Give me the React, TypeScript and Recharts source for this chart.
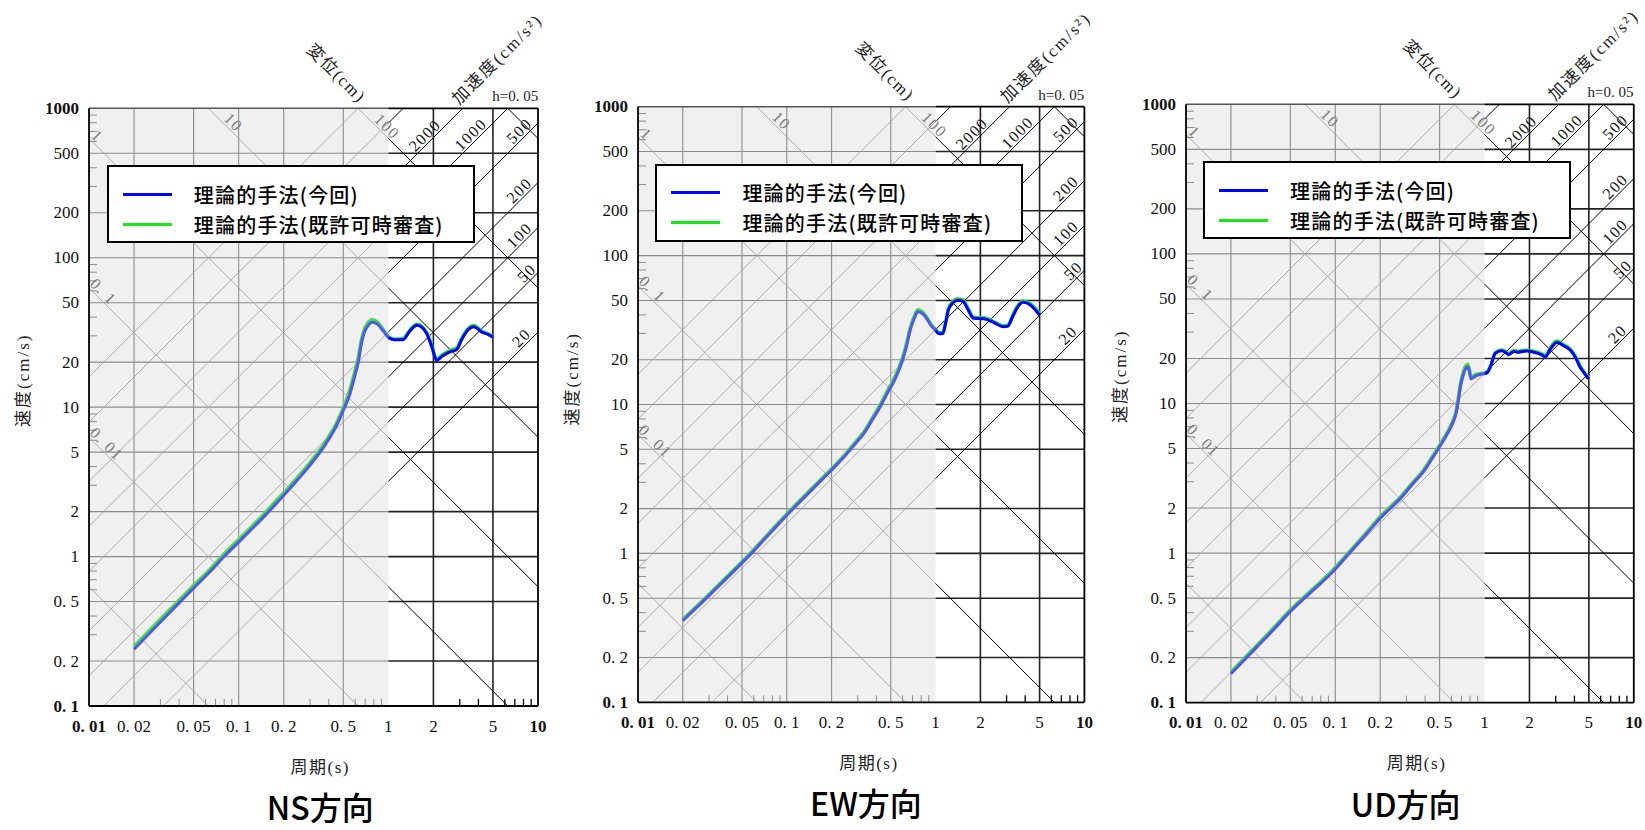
import React from 'react';
import {
  ComposedChart,
  Line,
  XAxis,
  YAxis,
  ReferenceLine,
  ReferenceArea,
  ReferenceDot,
  Legend,
} from 'recharts';

// ---- axes ----
const X_TICKS = [0.01, 0.02, 0.05, 0.1, 0.2, 0.5, 1, 2, 5, 10];
const X_TICK_LABELS = ['0. 01', '0. 02', '0. 05', '0. 1', '0. 2', '0. 5', '1', '2', '5', '10'];
const Y_TICKS = [0.1, 0.2, 0.5, 1, 2, 5, 10, 20, 50, 100, 200, 500, 1000];
const Y_TICK_LABELS = ['0. 1', '0. 2', '0. 5', '1', '2', '5', '10', '20', '50', '100', '200', '500', '1000'];

// ---- grid ----
const X_GRID = [0.02, 0.05, 0.1, 0.2, 0.5, 2, 5];
const Y_GRID = [0.2, 0.5, 1, 2, 5, 10, 20, 50, 100, 200, 500];
const X_MINOR = [0.03, 0.04, 0.06, 0.07, 0.08, 0.09, 0.3, 0.4, 0.6, 0.7, 0.8, 0.9, 3, 4, 6, 7, 8, 9];
const Y_MINOR = [
  0.3, 0.4, 0.6, 0.7, 0.8, 0.9, 3, 4, 6, 7, 8, 9,
  30, 40, 60, 70, 80, 90, 300, 400, 600, 700, 800, 900,
];

// ---- tripartite guide lines (displacement cm, acceleration cm/s2) ----
const DISP_LINES = [0.001, 0.01, 0.1, 1, 10, 100, 1000];
const ACC_LINES = [20, 50, 100, 200, 500, 1000, 2000, 5000, 10000];
const DISP_LABEL_VALUES = [0.01, 0.1, 1, 10, 100];
const DISP_LABEL_TEXT = ['0. 01', '0. 1', '1', '10', '100'];
const DISP_LABEL_AT = [0.0131, 0.0125, 0.0114, 0.0925, 0.984];
const ACC_LABEL_VALUES = [2000, 1000, 500, 200, 100, 50, 20];
const ACC_LABEL_AT = [1.75, 3.55, 7.5, 7.5, 7.5, 8.4, 7.75];

// ---- spectra (period s, velocity cm/s) ----
const NS_PERIOD = [0.02, 0.03, 0.04, 0.05, 0.065, 0.08, 0.1, 0.12, 0.15, 0.19, 0.22, 0.25, 0.3, 0.35, 0.4, 0.45, 0.5, 0.55, 0.6, 0.63, 0.66, 0.69, 0.73, 0.78, 0.85, 0.92, 1.0, 1.1, 1.25, 1.4, 1.55, 1.65, 1.8, 1.95, 2.1, 2.3, 2.6, 2.86, 3.1, 3.4, 3.7, 3.95, 4.2, 4.6, 5.0];
const NS_CURRENT = [0.24, 0.365, 0.49, 0.615, 0.8, 1.0, 1.25, 1.5, 1.88, 2.43, 2.85, 3.3, 4.1, 5.0, 6.1, 7.5, 9.5, 12.0, 16.5, 20.0, 26.5, 31.5, 35.0, 37.0, 35.8, 32.5, 29.2, 28.2, 28.3, 32.5, 35.3, 34.6, 31.2, 25.5, 20.6, 22.0, 23.5, 24.3, 28.5, 32.8, 34.5, 33.5, 31.8, 30.8, 29.4];
const NS_PREVIOUS = [0.25, 0.38, 0.51, 0.64, 0.83, 1.04, 1.3, 1.56, 1.96, 2.53, 2.96, 3.43, 4.25, 5.2, 6.35, 7.8, 9.9, 12.8, 17.6, 21.5, 28.0, 33.0, 36.6, 38.4, 36.8, 33.2, 29.6, 28.5, 28.7, 33.0, 35.9, 35.1, 31.6, 25.8, 21.0, 22.4, 24.0, 24.8, 29.0, 33.3, 35.1, 34.0, 32.2, 31.1, 29.6];

const EW_PERIOD = [0.02, 0.03, 0.04, 0.06, 0.08, 0.103, 0.15, 0.2, 0.25, 0.3, 0.33, 0.37, 0.43, 0.48, 0.53, 0.6, 0.64, 0.675, 0.72, 0.76, 0.81, 0.87, 0.93, 1.0, 1.06, 1.12, 1.17, 1.22, 1.32, 1.4, 1.53, 1.65, 1.8, 2.0, 2.2, 2.5, 2.84, 3.05, 3.3, 3.52, 3.88, 4.33, 4.7, 5.0];
const EW_CURRENT = [0.353, 0.52, 0.69, 1.04, 1.42, 1.86, 2.72, 3.63, 4.6, 5.7, 6.4, 7.7, 9.9, 12.2, 14.6, 19.9, 25.0, 31.6, 38.0, 42.0, 41.0, 37.9, 34.0, 31.5, 29.9, 30.0, 35.5, 43.3, 48.5, 50.2, 49.2, 43.5, 37.9, 37.8, 37.3, 35.2, 33.3, 33.5, 39.0, 44.3, 48.6, 46.6, 43.0, 39.9];
const EW_PREVIOUS = [0.36, 0.53, 0.705, 1.06, 1.45, 1.9, 2.78, 3.7, 4.7, 5.82, 6.55, 7.9, 10.2, 12.6, 15.1, 20.6, 26.0, 32.6, 39.2, 43.2, 42.0, 38.7, 34.6, 32.0, 30.3, 30.4, 36.2, 44.2, 49.5, 51.3, 50.2, 44.3, 38.5, 38.3, 37.8, 35.7, 33.8, 34.0, 39.7, 45.2, 49.6, 47.5, 43.8, 40.5];

const UD_PERIOD = [0.02, 0.03, 0.04, 0.0487, 0.07, 0.094, 0.13, 0.16, 0.2, 0.28, 0.33, 0.39, 0.44, 0.5, 0.56, 0.616, 0.645, 0.668, 0.689, 0.72, 0.745, 0.77, 0.79, 0.81, 0.85, 0.89, 0.95, 1.0, 1.05, 1.1, 1.18, 1.3, 1.38, 1.45, 1.57, 1.68, 1.8, 1.93, 2.1, 2.25, 2.45, 2.56, 2.75, 3.05, 3.2, 3.38, 3.6, 3.82, 4.1, 4.35, 4.65, 4.97];
const UD_CURRENT = [0.156, 0.237, 0.32, 0.396, 0.557, 0.733, 1.05, 1.325, 1.71, 2.38, 2.9, 3.5, 4.2, 5.14, 6.2, 7.5, 8.6, 10.5, 12.9, 15.5, 17.0, 17.6, 16.5, 14.6, 15.0, 15.4, 15.7, 15.8, 16.2, 17.8, 21.6, 22.5, 22.0, 21.2, 22.3, 22.0, 22.3, 22.4, 22.1, 21.7, 21.0, 20.5, 23.0, 25.6, 25.2, 24.3, 23.5, 22.3, 20.0, 17.6, 16.0, 14.6];
const UD_PREVIOUS = [0.16, 0.243, 0.328, 0.405, 0.57, 0.75, 1.075, 1.355, 1.75, 2.43, 2.96, 3.58, 4.3, 5.26, 6.35, 7.7, 8.9, 10.9, 13.4, 16.1, 17.7, 18.3, 17.1, 15.1, 15.4, 15.7, 15.9, 16.0, 16.4, 18.0, 21.9, 22.8, 22.3, 21.5, 22.6, 22.3, 22.6, 22.7, 22.4, 22.0, 21.3, 20.8, 23.4, 26.1, 25.7, 24.7, 23.9, 22.6, 20.3, 17.9, 16.2, 14.8];

const LEGEND_LABELS = ['理論的手法(今回)', '理論的手法(既許可時審査)'];
const TITLES = ['NS方向', 'EW方向', 'UD方向'];

// ---- style ----
const SERIF = "'Liberation Serif', 'Noto Sans CJK JP', serif";
const SANS = "'Noto Sans CJK JP', 'Noto Sans', sans-serif";
const GRAY_BG = '#f0f0f0';
const GRID_GRAY = '#8c8c8c';
const DIAG_GRAY = '#a4a4a4';
const INK = '#111';
const BLUE = '#0000ff';
const BLUE_FADED = '#5058f0';
const GREEN = '#18e818';
const GREEN_FADED = '#48dc48';
const TICK_LEFT = 1.13; // inner minor tick length as a factor on the log axis
const TICK_BOTTOM = 1.115;

type Pt = { x: number; y: number };
type Seg = { a: Pt; b: Pt; left: boolean; kind: string };

// clip V = C * T^slope to the plot box in log space, split at T = 1
function clipDiagonal(logC: number, slope: number, kind: string): Seg[] {
  let lo = slope > 0 ? -1 - logC : logC - 3;
  let hi = slope > 0 ? 3 - logC : logC + 1;
  lo = Math.max(lo, -2);
  hi = Math.min(hi, 1);
  if (hi - lo < 1e-6) return [];
  const pt = (u: number) => ({ x: Math.pow(10, u), y: Math.pow(10, logC + slope * u) });
  const out: Seg[] = [];
  if (lo < -1e-6) out.push({ a: pt(lo), b: pt(Math.min(hi, 0)), left: true, kind });
  if (hi > 1e-6) out.push({ a: pt(Math.max(lo, 0)), b: pt(hi), left: false, kind });
  return out;
}

function buildGuides(): Seg[] {
  const segs: Seg[] = [];
  Y_GRID.forEach((v) => {
    segs.push({ a: { x: 0.01, y: v }, b: { x: 1, y: v }, left: true, kind: 'grid' });
    segs.push({ a: { x: 1, y: v }, b: { x: 10, y: v }, left: false, kind: 'grid' });
  });
  X_GRID.forEach((t) => {
    segs.push({ a: { x: t, y: 0.1 }, b: { x: t, y: 1000 }, left: t < 1, kind: 'grid' });
  });
  DISP_LINES.forEach((d) => segs.push(...clipDiagonal(Math.log10(2 * Math.PI * d), -1, 'diag')));
  ACC_LINES.forEach((a) => segs.push(...clipDiagonal(Math.log10(a / (2 * Math.PI)), 1, 'diag')));
  Y_MINOR.forEach((v) => {
    segs.push({ a: { x: 0.01, y: v }, b: { x: 0.01 * TICK_LEFT, y: v }, left: true, kind: 'tick' });
  });
  X_MINOR.forEach((t) => {
    segs.push({ a: { x: t, y: 0.1 }, b: { x: t, y: 0.1 * TICK_BOTTOM }, left: t < 1, kind: 'tick' });
  });
  // frame
  segs.push({ a: { x: 0.01, y: 1000 }, b: { x: 1, y: 1000 }, left: true, kind: 'frameGray' });
  segs.push({ a: { x: 1, y: 1000 }, b: { x: 10, y: 1000 }, left: false, kind: 'frame' });
  segs.push({ a: { x: 10, y: 0.1 }, b: { x: 10, y: 1000 }, left: false, kind: 'frame' });
  segs.push({ a: { x: 0.01, y: 0.1 }, b: { x: 10, y: 0.1 }, left: false, kind: 'frame' });
  segs.push({ a: { x: 0.01, y: 0.1 }, b: { x: 0.01, y: 1000 }, left: false, kind: 'frame' });
  return segs;
}

const GUIDES = buildGuides();

function segStyle(s: Seg) {
  if (s.kind === 'frame') return { stroke: '#000', strokeWidth: 1.8 };
  if (s.kind === 'frameGray') return { stroke: '#555', strokeWidth: 1.5 };
  if (s.kind === 'diag') return s.left ? { stroke: DIAG_GRAY, strokeWidth: 0.9 } : { stroke: '#000', strokeWidth: 1 };
  if (s.kind === 'tick') return s.left ? { stroke: GRID_GRAY, strokeWidth: 1 } : { stroke: '#000', strokeWidth: 1.3 };
  return s.left ? { stroke: GRID_GRAY, strokeWidth: 1.1 } : { stroke: '#222', strokeWidth: 1.6 };
}

function split(period: number[], values: number[]) {
  const pts = period.map((t, i) => ({ t, v: values[i] }));
  return { left: pts.filter((p) => p.t <= 1), right: pts.filter((p) => p.t >= 1) };
}

const PANELS = [
  { title: TITLES[0], plot: { left: 89.3, top: 108.3, width: 449, height: 597.7 }, titleDx: 231, period: NS_PERIOD, current: NS_CURRENT, previous: NS_PREVIOUS },
  { title: TITLES[1], plot: { left: 637.9, top: 106.7, width: 446.4, height: 595.6 }, titleDx: 228, period: EW_PERIOD, current: EW_CURRENT, previous: EW_PREVIOUS },
  { title: TITLES[2], plot: { left: 1185.6, top: 104.3, width: 447.8, height: 598.4 }, titleDx: 220, period: UD_PERIOD, current: UD_CURRENT, previous: UD_PREVIOUS },
];

function XTick(props: any) {
  const { x, y, payload } = props;
  const i = X_TICKS.indexOf(payload.value);
  const edge = i === 0 || i === X_TICKS.length - 1;
  return (
    <text x={x} y={y + 20} textAnchor="middle" dominantBaseline="central" fontFamily={SERIF} fontSize={17} fontWeight={edge ? 700 : 400} fill={INK}>
      {i >= 0 ? X_TICK_LABELS[i] : String(payload.value)}
    </text>
  );
}

function YTick(props: any) {
  const { x, y, payload } = props;
  const i = Y_TICKS.indexOf(payload.value);
  const edge = i === 0 || i === Y_TICKS.length - 1;
  return (
    <text x={x - 10} y={y} textAnchor="end" dominantBaseline="central" fontFamily={SERIF} fontSize={17} fontWeight={edge ? 700 : 400} fill={INK}>
      {i >= 0 ? Y_TICK_LABELS[i] : String(payload.value)}
    </text>
  );
}

function diagText(text: string, angle: number, color: string) {
  return (props: any) => {
    const cx = props.cx;
    const cy = props.cy - 11;
    return (
      <text x={cx} y={cy} transform={`rotate(${angle} ${cx} ${cy})`} textAnchor="middle" dominantBaseline="central" fontFamily={SERIF} fontSize={16} letterSpacing={1.5} fill={color}>
        {text}
      </text>
    );
  };
}

function LegendBox() {
  const colors = [BLUE, GREEN];
  return (
    <div style={{ width: 368, height: 78, border: '2px solid #000', background: '#fff', boxSizing: 'border-box', position: 'relative' }}>
      {LEGEND_LABELS.map((label, i) => (
        <div key={label} style={{ position: 'absolute', left: 14, top: 27 + i * 30 - 14, height: 28, display: 'flex', alignItems: 'center' }}>
          <span style={{ display: 'inline-block', width: 49, height: 3, background: colors[i] }} />
          <span style={{ marginLeft: 22, fontFamily: SANS, fontSize: 20, fontWeight: 500, color: '#000', letterSpacing: 1.2, whiteSpace: 'nowrap' }}>{label}</span>
        </div>
      ))}
    </div>
  );
}

function Panel({ p }: { p: (typeof PANELS)[number] }) {
  const { left, top, width, height } = p.plot;
  const margin = { top, left: 30, right: 14, bottom: 830 - top - height - 30 };
  const cur = split(p.period, p.current);
  const prev = split(p.period, p.previous);
  const common = { dataKey: 'v', type: 'monotone' as const, dot: false, isAnimationActive: false, activeDot: false };
  return (
    <div style={{ position: 'absolute', left: left - 90, top: 0 }}>
      <ComposedChart width={width + 104} height={830} margin={margin}>
        <XAxis dataKey="t" type="number" scale="log" domain={[0.01, 10]} allowDataOverflow ticks={X_TICKS} interval={0} tickLine={false} axisLine={false} tickSize={0} tickMargin={0} height={30} tick={<XTick />} />
        <YAxis type="number" scale="log" domain={[0.1, 1000]} allowDataOverflow ticks={Y_TICKS} interval={0} tickLine={false} axisLine={false} tickSize={0} tickMargin={0} width={60} tick={<YTick />} />
        <ReferenceArea x1={0.01} x2={1} y1={0.1} y2={1000} fill={GRAY_BG} fillOpacity={1} stroke="none" ifOverflow="visible" zIndex={-60} />
        {GUIDES.map((s, i) => (
          <ReferenceLine key={`g${i}`} segment={[s.a, s.b]} ifOverflow="visible" zIndex={-40} {...segStyle(s)} />
        ))}
        <Line {...common} data={prev.left} stroke={GREEN_FADED} strokeWidth={3.6} />
        <Line {...common} data={prev.right} stroke={GREEN} strokeWidth={3.6} />
        <Line {...common} data={cur.left} stroke={BLUE_FADED} strokeWidth={3} />
        <Line {...common} data={cur.right} stroke={BLUE} strokeWidth={3} />
        {DISP_LABEL_VALUES.map((d, i) => (
          <ReferenceDot key={`dl${i}`} x={DISP_LABEL_AT[i]} y={(2 * Math.PI * d) / DISP_LABEL_AT[i]} r={1} ifOverflow="visible" zIndex={600} shape={diagText(DISP_LABEL_TEXT[i], 45, '#7a7a7a')} />
        ))}
        {ACC_LABEL_VALUES.map((a, i) => (
          <ReferenceDot key={`al${i}`} x={ACC_LABEL_AT[i]} y={(a * ACC_LABEL_AT[i]) / (2 * Math.PI)} r={1} ifOverflow="visible" zIndex={600} shape={diagText(String(a), -45, INK)} />
        ))}
        <Legend layout="vertical" align="center" verticalAlign="middle" wrapperStyle={{ left: 107.5, top: top + 57, width: 368, height: 78 }} content={() => <LegendBox />} />
      </ComposedChart>
    </div>
  );
}

function PanelTexts({ p }: { p: (typeof PANELS)[number] }) {
  const { left, top, width, height } = p.plot;
  const right = left + width;
  const bottom = top + height;
  const yl = { x: left - 65.5, y: top + 272 };
  const dl = { x: left + 247, y: top - 35 };
  const al = { x: left + 408, y: top - 49 };
  return (
    <g fontFamily={SERIF} fill="#222">
      <text x={yl.x} y={yl.y} transform={`rotate(-90 ${yl.x} ${yl.y})`} textAnchor="middle" dominantBaseline="central" fontSize={17} letterSpacing={2}>速度(cm/s)</text>
      <text x={left + 231} y={bottom + 61} textAnchor="middle" dominantBaseline="central" fontSize={17} letterSpacing={1.5}>周期(s)</text>
      <text x={dl.x} y={dl.y} transform={`rotate(45 ${dl.x} ${dl.y})`} textAnchor="middle" dominantBaseline="central" fontSize={17} letterSpacing={1.5}>変位(cm)</text>
      <text x={al.x} y={al.y} transform={`rotate(-45 ${al.x} ${al.y})`} textAnchor="middle" dominantBaseline="central" fontSize={17} letterSpacing={2}>加速度(cm/s²)</text>
      <text x={right} y={top - 12} textAnchor="end" dominantBaseline="central" fontSize={15}>h=0. 05</text>
      <text x={left + p.titleDx} y={bottom + 100} textAnchor="middle" dominantBaseline="central" fontFamily={SANS} fontSize={32} fontWeight={500} fill="#000">{p.title}</text>
    </g>
  );
}

export default function App() {
  return (
    <div style={{ position: 'absolute', left: 0, top: 0, width: 1645, height: 830, background: '#fff', overflow: 'hidden' }}>
      {PANELS.map((p) => (
        <Panel key={p.title} p={p} />
      ))}
      <svg width={1645} height={830} style={{ position: 'absolute', left: 0, top: 0, pointerEvents: 'none' }}>
        {PANELS.map((p) => (
          <PanelTexts key={p.title} p={p} />
        ))}
      </svg>
    </div>
  );
}
